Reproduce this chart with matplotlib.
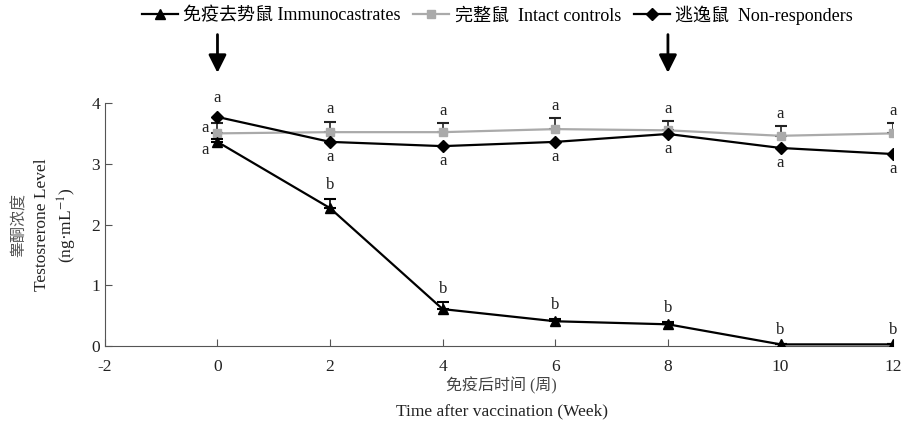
import numpy as np
import matplotlib.pyplot as plt
from matplotlib.lines import Line2D

plt.rcParams.update({
    "font.family": ["Liberation Serif", "Noto Sans CJK SC"],
    "mathtext.fontset": "stix",
    "font.size": 12,
    "axes.unicode_minus": False,
})

# ---- data ----
weeks = [0, 2, 4, 6, 8, 10, 12]
immuno = [3.36, 2.27, 0.61, 0.41, 0.36, 0.03, 0.03]
immuno_err = [0.05, 0.15, 0.11, 0.04, 0.04, 0.0, 0.0]
intact = [3.50, 3.52, 3.52, 3.57, 3.55, 3.46, 3.50]
intact_err = [0.17, 0.17, 0.15, 0.18, 0.15, 0.16, 0.17]
nonresp = [3.77, 3.36, 3.29, 3.36, 3.49, 3.26, 3.16]

immuno_lbl = ["a", "b", "b", "b", "b", "b", "b"]
intact_lbl = ["a"] * 7
nonresp_lbl = ["a"] * 7

arrow_weeks = [0, 8]

labels = ["免疫去势鼠 Immunocastrates", "完整鼠  Intact controls", "逃逸鼠  Non-responders"]

txt = "#222222"
grey = "#aaaaaa"

fig = plt.figure(figsize=(9.04, 4.29), dpi=100)
ax = fig.add_axes([0.116, 0.193, 0.872, 0.567])

zeros = np.zeros(len(weeks))
ax.errorbar(weeks, intact, yerr=[zeros, intact_err], color=grey, ecolor="#222222",
            marker="s", ms=6, lw=1.6, capsize=4, elinewidth=1.2, capthick=1.5, zorder=2)
ax.errorbar(weeks, immuno, yerr=[zeros, immuno_err], color="black", marker="^", ms=7.5,
            lw=1.6, capsize=4, elinewidth=1.2, capthick=1.5, zorder=3)
ax.plot(weeks, nonresp, color="black", marker="D", ms=6, lw=1.6, zorder=4)

# significance letters
for i, w in enumerate(weeks):
    if i == 0:
        ax.annotate(immuno_lbl[i], (w, immuno[i]), xytext=(-9, -6), textcoords="offset points",
                    ha="center", va="center", color=txt)
        ax.annotate(intact_lbl[i], (w, intact[i]), xytext=(-9, 4), textcoords="offset points",
                    ha="center", va="center", color=txt)
        ax.annotate(nonresp_lbl[i], (w, nonresp[i]), xytext=(0, 14), textcoords="offset points",
                    ha="center", va="center", color=txt)
    else:
        ax.annotate(immuno_lbl[i], (w, immuno[i] + immuno_err[i]), xytext=(0, 10),
                    textcoords="offset points", ha="center", va="center", color=txt)
        ax.annotate(intact_lbl[i], (w, intact[i] + intact_err[i]), xytext=(0, 9),
                    textcoords="offset points", ha="center", va="center", color=txt)
        ax.annotate(nonresp_lbl[i], (w, nonresp[i]), xytext=(0, -11),
                    textcoords="offset points", ha="center", va="center", color=txt)

# vaccination arrows
for w in arrow_weeks:
    ax.annotate("", xy=(w, 4.45), xytext=(w, 5.17), annotation_clip=False,
                arrowprops=dict(arrowstyle="-|>,head_length=0.9,head_width=0.45",
                                color="black", lw=2))

ax.set_xlim(-2, 12)
ax.set_ylim(0, 4)
ax.set_xticks(range(-2, 13, 2))
ax.set_yticks(range(0, 5))
ax.tick_params(direction="in", length=5, colors="#555555", labelcolor=txt, labelsize=12.5)
ax.tick_params(axis="x", pad=9)
for s in ["top", "right"]:
    ax.spines[s].set_visible(False)
for s in ["left", "bottom"]:
    ax.spines[s].set_color("#555555")

fig.text(0.022, 0.476, "睾酮浓度", rotation=90, ha="center", va="center", color="#555555", fontsize=11.5)
fig.text(0.047, 0.476, "Testosrerone Level", rotation=90, ha="center", va="center", color=txt,
         fontsize=12.5)
fig.text(0.075, 0.476, "(ng·mL$^{-1}$)", rotation=90, ha="center", va="center", color=txt,
         fontsize=12.5)
fig.text(0.555, 0.1, "免疫后时间 (周)", ha="center", va="center", color="#444444", fontsize=11.5)
fig.text(0.555, 0.04, "Time after vaccination (Week)", ha="center", va="center", color=txt,
         fontsize=12.5)

handles = [
    Line2D([], [], color="black", marker="^", ms=7.5, lw=1.6),
    Line2D([], [], color=grey, marker="s", ms=6, lw=1.6),
    Line2D([], [], color="black", marker="D", ms=6, lw=1.6),
]
fig.legend(handles, labels, loc="center", bbox_to_anchor=(0.55, 0.965), ncol=3, frameon=False,
           handlelength=2.0, handletextpad=0.3, columnspacing=0.7, fontsize=13)

fig.savefig("out.png", dpi=100)
